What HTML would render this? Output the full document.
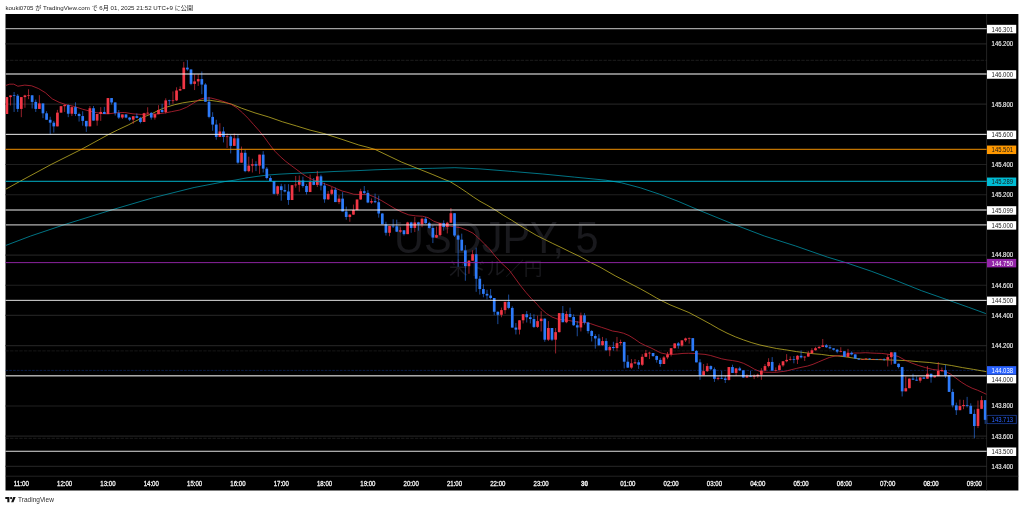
<!DOCTYPE html>
<html lang="ja"><head><meta charset="utf-8"><title>USDJPY chart</title>
<style>html,body{margin:0;padding:0;background:#fff;overflow:hidden}svg{display:block;filter:blur(0.28px)}</style></head>
<body><svg width="1024" height="509" viewBox="0 0 1024 509" font-family="Liberation Sans, Noto Sans CJK JP, sans-serif">
<rect width="1024" height="509" fill="#fff"/>
<text x="5.5" y="10.4" font-size="6.15" fill="#222">kouki0705 が TradingView.com で 6月 01, 2025 21:52 UTC+9 に公開</text>
<rect x="5.5" y="14.0" width="1012.9" height="476.5" fill="#000"/>
<clipPath id="pane"><rect x="5.5" y="14.0" width="981.1" height="462.2"/></clipPath>
<text x="496.3" y="252.7" font-size="45" fill="#19191d" text-anchor="middle" textLength="204.5" lengthAdjust="spacingAndGlyphs">USDJPY, 5</text>
<text x="495.8" y="275.3" font-size="18.7" fill="#19191d" text-anchor="middle">米ドル／円</text>
<g stroke="#202020" stroke-width="1.15">
<line x1="5.5" x2="986.6" y1="43.82" y2="43.82"/>
<line x1="5.5" x2="986.6" y1="74" y2="74"/>
<line x1="5.5" x2="986.6" y1="104.18" y2="104.18"/>
<line x1="5.5" x2="986.6" y1="134.36" y2="134.36"/>
<line x1="5.5" x2="986.6" y1="164.54" y2="164.54"/>
<line x1="5.5" x2="986.6" y1="194.72" y2="194.72"/>
<line x1="5.5" x2="986.6" y1="224.9" y2="224.9"/>
<line x1="5.5" x2="986.6" y1="255.08" y2="255.08"/>
<line x1="5.5" x2="986.6" y1="285.26" y2="285.26"/>
<line x1="5.5" x2="986.6" y1="315.44" y2="315.44"/>
<line x1="5.5" x2="986.6" y1="345.62" y2="345.62"/>
<line x1="5.5" x2="986.6" y1="375.8" y2="375.8"/>
<line x1="5.5" x2="986.6" y1="405.98" y2="405.98"/>
<line x1="5.5" x2="986.6" y1="436.16" y2="436.16"/>
<line x1="5.5" x2="986.6" y1="466.34" y2="466.34"/>
</g>
<line x1="986.6" x2="986.6" y1="14.0" y2="490.5" stroke="#3a3a3a" stroke-width="0.6"/>
<line x1="5.5" x2="1018.4" y1="476.2" y2="476.2" stroke="#3a3a3a" stroke-width="0.6"/>
<line x1="5.5" x2="986.6" y1="60.3" y2="60.3" stroke="#383838" stroke-width="0.5" stroke-dasharray="3.4 1.2"/>
<line x1="5.5" x2="986.6" y1="438.3" y2="438.3" stroke="#383838" stroke-width="0.5" stroke-dasharray="3.4 1.2"/>
<line x1="5.5" x2="986.6" y1="350.9" y2="350.9" stroke="#2c2c2c" stroke-width="0.5" stroke-dasharray="3.4 1.2"/>
<line x1="5.5" x2="986.6" y1="370.4" y2="370.4" stroke="#102e76" stroke-width="0.6" stroke-dasharray="2.6 1.2"/>
<g clip-path="url(#pane)">
<polyline fill="none" stroke="#00a5bb" stroke-width="0.7" stroke-linejoin="round" points="5.6,245.5 30.7,236 66.4,224 112.4,209.7 153.3,197.7 194.1,187.5 224.8,181.6 235,180.1 246,178 257,176.4 268,175 279,174.2 290,173.6 301,173.2 312,172.5 323,172.1 334,171.5 345,171.1 356,170.7 367,170.2 375,169.8 401.4,168.9 432.9,168.3 454.9,167.7 480,168.9 511.5,171.4 542.9,174 574.3,177.1 605.8,180.2 621.5,182.8 640.4,187.8 659.2,194.1 678.1,201.3 698.3,209.9 732.9,224 764.3,236 795.7,246 827.2,257 846,262.7 871.2,271.2 896.3,280.6 921.5,290.7 946.6,299.5 968.6,307.3 985.9,313.6"/>
<polyline fill="none" stroke="#d9c72b" stroke-width="0.7" stroke-linejoin="round" points="5.6,189.3 20.4,181.1 51.1,164.5 81.7,149.2 109.8,133.8 117.5,130 128.2,125 135.8,121 144,116.9 152.3,113.5 159.1,110 166,107.3 174.3,104.8 182.5,102.9 190.8,101.6 199,100.6 204.5,100.2 210,100.3 216.9,101.3 223.8,102.4 230.7,103.8 241.3,108.1 255,112.9 268.8,117 282.5,121.8 296.3,125.9 310,130.1 323.8,133.5 340,138.7 358.8,145 367,147.1 375,149.4 401.4,162 432.9,174.6 443.1,178.9 450,181.6 458.3,186.7 466.5,192.2 473.4,197 480,201.3 486.8,205 495,209.8 503.3,215.3 511.5,220.1 519.8,225.4 528,230.4 536.3,235.3 544.5,239.4 552.8,243.5 561,247.4 569.3,251.5 580,256.6 590,262.2 600,267.1 615.2,275.8 640.4,288.8 649.7,294 656.5,298 663.4,301.6 670,304.8 688.9,312.5 703,320 710.5,324.1 718.8,328.9 727,333.1 735.3,336.8 743.5,339.9 751.8,342.7 760,345 768.3,346.8 776.5,348.5 784.8,349.7 796.5,351.6 804.8,352.7 813,353.7 821.3,354.4 829.5,355.5 837.8,356 846,356.9 854.3,358.2 862.5,359.2 870.8,359.5 879,359.6 887.3,359.9 895.5,360.2 907.5,360.7 918.5,361.7 929.5,362.5 940.5,363.9 951.5,365.5 962.5,367.6 973.5,369.4 986.6,371.7"/>
<polyline fill="none" stroke="#d8283c" stroke-width="0.7" stroke-linejoin="round" points="5.5,85.54 9.62,84.16 13.75,84.16 17.87,86.22 24.75,85.12 31.62,85.81 38.5,88.56 45.37,92.69 52.25,98.87 59.12,102.31 66,104.65 74.25,106.44 82.5,109.19 89.37,110.97 96.25,112.62 103.12,113.72 108.25,113.86 116.5,112.76 124.76,112.49 133.01,113.86 141.26,114.41 149.51,114.14 157.76,113.86 164.64,113.04 171.52,111.66 179.77,110.01 186.65,107.26 193.52,103.14 199.02,99.7 203.15,98.32 205.5,98.03 211,98.03 217.88,99.81 224.76,101.88 231.63,104.63 237.13,108.07 242.64,112.88 248.14,118.38 253.64,124.57 259.14,130.76 264.64,137.64 270.14,145.2 274.88,151.19 280.39,156.69 285.89,161.5 291.39,165.63 296.89,169.76 302.39,173.88 307.89,177.32 313.39,180.07 320.27,182.13 325.77,184.2 331.27,186.26 336.77,188.74 342.28,191.07 346.88,192.19 353.75,194.25 360.63,194.53 367.51,194.25 374.38,197.01 381.26,200.44 388.14,204.57 395.01,208.7 401.89,212.13 408.77,214.88 415.64,215.85 422.52,216.26 428.02,217.64 433.52,221.07 439.02,223.14 446.88,225.63 453.75,226.73 460.63,227.69 467.51,230.44 473.01,233.19 478.51,238.01 484.01,243.51 489.51,249.01 495.01,255.89 500.51,262.08 509.51,270.5 515.01,278.07 520.51,285.63 526.02,292.51 531.52,298.7 537.02,304.2 541,308.75 546.5,313.57 552.01,317.01 557.51,319.07 563.01,319.76 568.51,320.44 574.01,321.41 579.51,322.23 585.01,322.51 590.51,323.61 596.02,325.53 601.52,327.32 607.02,329.11 612.52,331.03 618.02,331.86 623.52,333.23 629.02,335.57 634.52,339.01 640.03,342.86 645.53,345.61 651.03,347.95 655.5,350.26 661,353.01 666.5,354.11 672.01,354.38 677.51,353.97 683.01,353.42 688.51,353.28 694.01,353.42 699.51,353.97 705.01,354.38 710.51,355.48 716.02,357.13 721.52,358.78 727.02,359.88 732.52,360.57 738.02,361.53 743.52,363.32 749.02,366.07 754.52,369.24 760.03,371.57 765.53,372.26 771.03,372.26 776.53,372.26 785.5,371.16 791,369.79 796.5,368.41 802.01,367.17 807.51,366.07 813.01,364.29 818.51,361.95 824.01,359.61 829.51,357.41 835.01,356.03 840.51,355.48 846.02,355.07 850.14,353.7 854.27,353.01 859.77,353.01 865.27,352.73 870.77,353.01 876.27,353.28 881.77,353.42 887.28,354.11 892.78,355.07 898.28,356.45 904.76,360 911.63,363.03 918.51,365.5 925.39,367.56 932.26,369.35 939.14,370.31 944.64,371.28 950.14,373.75 955.64,377.88 961.14,382.01 966.65,385.44 972.15,388.19 977.65,390.26 983.15,392.73 986.59,394.38"/>
<path d="M6.88 97.09V114" stroke="#f23645" stroke-width="0.62"/>
<rect x="5.53" y="97.09" width="2.7" height="16.91" fill="#f23645"/>
<path d="M10.49 95.44V105.48" stroke="#f23645" stroke-width="0.62"/>
<rect x="9.14" y="95.44" width="2.7" height="1.65" fill="#f23645"/>
<path d="M14.1 92V111.94" stroke="#2d7bfa" stroke-width="0.62"/>
<rect x="12.75" y="95.23" width="2.7" height="0.7" fill="#2d7bfa"/>
<path d="M17.71 94.06V111.94" stroke="#2d7bfa" stroke-width="0.62"/>
<rect x="16.36" y="95.72" width="2.7" height="13.2" fill="#2d7bfa"/>
<path d="M21.32 97.09V117.17" stroke="#f23645" stroke-width="0.62"/>
<rect x="19.97" y="97.09" width="2.7" height="11.83" fill="#f23645"/>
<path d="M24.93 94.75V107.82" stroke="#f23645" stroke-width="0.62"/>
<rect x="23.58" y="95.44" width="2.7" height="1.65" fill="#f23645"/>
<path d="M28.54 89.25V99.15" stroke="#f23645" stroke-width="0.62"/>
<rect x="27.19" y="95.02" width="2.7" height="0.7" fill="#f23645"/>
<path d="M32.15 95.17V108.5" stroke="#2d7bfa" stroke-width="0.62"/>
<rect x="30.8" y="95.3" width="2.7" height="6.6" fill="#2d7bfa"/>
<path d="M35.76 99.57V111.94" stroke="#2d7bfa" stroke-width="0.62"/>
<rect x="34.41" y="101.9" width="2.7" height="7.01" fill="#2d7bfa"/>
<path d="M39.37 95.17V108.92" stroke="#f23645" stroke-width="0.62"/>
<rect x="38.02" y="103.42" width="2.7" height="5.5" fill="#f23645"/>
<path d="M42.98 103.42V118.13" stroke="#2d7bfa" stroke-width="0.62"/>
<rect x="41.63" y="103.42" width="2.7" height="9.9" fill="#2d7bfa"/>
<path d="M46.59 111.25V119.78" stroke="#2d7bfa" stroke-width="0.62"/>
<rect x="45.24" y="113.32" width="2.7" height="6.46" fill="#2d7bfa"/>
<path d="M50.2 116.75V134.36" stroke="#2d7bfa" stroke-width="0.62"/>
<rect x="48.85" y="119.78" width="2.7" height="2.89" fill="#2d7bfa"/>
<path d="M53.81 120.88V132.57" stroke="#2d7bfa" stroke-width="0.62"/>
<rect x="52.46" y="122.67" width="2.7" height="3.71" fill="#2d7bfa"/>
<path d="M57.42 109.88V126.38" stroke="#f23645" stroke-width="0.62"/>
<rect x="56.07" y="112.63" width="2.7" height="13.75" fill="#f23645"/>
<path d="M61.03 106.17V112.63" stroke="#f23645" stroke-width="0.62"/>
<rect x="59.68" y="106.17" width="2.7" height="6.46" fill="#f23645"/>
<path d="M64.64 104.38V111.94" stroke="#f23645" stroke-width="0.62"/>
<rect x="63.29" y="105.07" width="2.7" height="1.1" fill="#f23645"/>
<path d="M68.25 104.38V117.17" stroke="#2d7bfa" stroke-width="0.62"/>
<rect x="66.9" y="105.07" width="2.7" height="8.66" fill="#2d7bfa"/>
<path d="M71.86 106.44V116.07" stroke="#f23645" stroke-width="0.62"/>
<rect x="70.51" y="107.13" width="2.7" height="6.6" fill="#f23645"/>
<path d="M75.47 102.32V116.07" stroke="#2d7bfa" stroke-width="0.62"/>
<rect x="74.12" y="107.13" width="2.7" height="6.88" fill="#2d7bfa"/>
<path d="M79.08 112.63V121.57" stroke="#2d7bfa" stroke-width="0.62"/>
<rect x="77.73" y="114" width="2.7" height="2.06" fill="#2d7bfa"/>
<path d="M82.69 111.25V125.69" stroke="#2d7bfa" stroke-width="0.62"/>
<rect x="81.34" y="116.07" width="2.7" height="4.81" fill="#2d7bfa"/>
<path d="M86.3 120.88V131.88" stroke="#2d7bfa" stroke-width="0.62"/>
<rect x="84.95" y="120.88" width="2.7" height="5.5" fill="#2d7bfa"/>
<path d="M89.91 106.03V126.38" stroke="#f23645" stroke-width="0.62"/>
<rect x="88.56" y="108.23" width="2.7" height="18.15" fill="#f23645"/>
<path d="M93.52 106.03V120.61" stroke="#2d7bfa" stroke-width="0.62"/>
<rect x="92.17" y="108.23" width="2.7" height="12.38" fill="#2d7bfa"/>
<path d="M97.13 114V125.69" stroke="#f23645" stroke-width="0.62"/>
<rect x="95.78" y="114" width="2.7" height="6.6" fill="#f23645"/>
<path d="M100.74 107.13V120.88" stroke="#f23645" stroke-width="0.62"/>
<rect x="99.39" y="111.94" width="2.7" height="2.06" fill="#f23645"/>
<path d="M104.35 106.85V114" stroke="#2d7bfa" stroke-width="0.62"/>
<rect x="103" y="111.94" width="2.7" height="2.06" fill="#2d7bfa"/>
<path d="M107.96 98.05V114" stroke="#f23645" stroke-width="0.62"/>
<rect x="106.61" y="98.05" width="2.7" height="15.96" fill="#f23645"/>
<path d="M111.57 98.05V104.51" stroke="#2d7bfa" stroke-width="0.62"/>
<rect x="110.22" y="98.05" width="2.7" height="4.4" fill="#2d7bfa"/>
<path d="M115.18 102.45V115.51" stroke="#2d7bfa" stroke-width="0.62"/>
<rect x="113.83" y="102.45" width="2.7" height="10.73" fill="#2d7bfa"/>
<path d="M118.79 110.01V118.95" stroke="#2d7bfa" stroke-width="0.62"/>
<rect x="117.44" y="113.18" width="2.7" height="4.4" fill="#2d7bfa"/>
<path d="M122.4 114.41V118.95" stroke="#f23645" stroke-width="0.62"/>
<rect x="121.05" y="114.41" width="2.7" height="3.16" fill="#f23645"/>
<path d="M126.01 114.41V118.27" stroke="#2d7bfa" stroke-width="0.62"/>
<rect x="124.66" y="114.41" width="2.7" height="3.16" fill="#2d7bfa"/>
<path d="M129.62 116.89V121.02" stroke="#2d7bfa" stroke-width="0.62"/>
<rect x="128.27" y="117.58" width="2.7" height="2.06" fill="#2d7bfa"/>
<path d="M133.23 116.2V123.77" stroke="#f23645" stroke-width="0.62"/>
<rect x="131.88" y="116.2" width="2.7" height="3.44" fill="#f23645"/>
<path d="M136.84 113.45V118.27" stroke="#2d7bfa" stroke-width="0.62"/>
<rect x="135.49" y="116.2" width="2.7" height="1.65" fill="#2d7bfa"/>
<path d="M140.45 116.89V123.35" stroke="#2d7bfa" stroke-width="0.62"/>
<rect x="139.1" y="117.85" width="2.7" height="4.13" fill="#2d7bfa"/>
<path d="M144.06 112.76V121.98" stroke="#f23645" stroke-width="0.62"/>
<rect x="142.71" y="113.18" width="2.7" height="8.8" fill="#f23645"/>
<path d="M147.67 107.26V114.14" stroke="#f23645" stroke-width="0.62"/>
<rect x="146.32" y="112.69" width="2.7" height="0.7" fill="#f23645"/>
<path d="M151.28 112.08V119.64" stroke="#2d7bfa" stroke-width="0.62"/>
<rect x="149.93" y="112.9" width="2.7" height="4.68" fill="#2d7bfa"/>
<path d="M154.89 114.14V119.64" stroke="#f23645" stroke-width="0.62"/>
<rect x="153.54" y="114.14" width="2.7" height="3.44" fill="#f23645"/>
<path d="M158.5 105.2V114.14" stroke="#f23645" stroke-width="0.62"/>
<rect x="157.15" y="110.01" width="2.7" height="4.13" fill="#f23645"/>
<path d="M162.11 103.82V112.76" stroke="#2d7bfa" stroke-width="0.62"/>
<rect x="160.76" y="110.01" width="2.7" height="2.06" fill="#2d7bfa"/>
<path d="M165.72 98.32V113.45" stroke="#f23645" stroke-width="0.62"/>
<rect x="164.37" y="100.39" width="2.7" height="11.69" fill="#f23645"/>
<path d="M169.33 99.7V105.2" stroke="#2d7bfa" stroke-width="0.62"/>
<rect x="167.98" y="100.38" width="2.7" height="0.7" fill="#2d7bfa"/>
<path d="M172.94 91.45V103.82" stroke="#f23645" stroke-width="0.62"/>
<rect x="171.59" y="100.38" width="2.7" height="0.7" fill="#f23645"/>
<path d="M176.55 87.32V101.07" stroke="#f23645" stroke-width="0.62"/>
<rect x="175.2" y="90.48" width="2.7" height="9.9" fill="#f23645"/>
<path d="M180.16 86.36V91.03" stroke="#f23645" stroke-width="0.62"/>
<rect x="178.81" y="89.11" width="2.7" height="1.38" fill="#f23645"/>
<path d="M183.77 61.88V89.11" stroke="#f23645" stroke-width="0.62"/>
<rect x="182.42" y="67.65" width="2.7" height="21.46" fill="#f23645"/>
<path d="M187.38 60.23V70.82" stroke="#2d7bfa" stroke-width="0.62"/>
<rect x="186.03" y="67.65" width="2.7" height="1.79" fill="#2d7bfa"/>
<path d="M190.99 69.44V85.26" stroke="#2d7bfa" stroke-width="0.62"/>
<rect x="189.64" y="69.44" width="2.7" height="14.44" fill="#2d7bfa"/>
<path d="M194.6 74.25V90.07" stroke="#f23645" stroke-width="0.62"/>
<rect x="193.25" y="81.41" width="2.7" height="2.48" fill="#f23645"/>
<path d="M198.21 74.25V85.94" stroke="#f23645" stroke-width="0.62"/>
<rect x="196.86" y="79.07" width="2.7" height="2.34" fill="#f23645"/>
<path d="M201.82 71.5V94.2" stroke="#2d7bfa" stroke-width="0.62"/>
<rect x="200.47" y="79.07" width="2.7" height="5.5" fill="#2d7bfa"/>
<path d="M205.43 83.19V101.76" stroke="#2d7bfa" stroke-width="0.62"/>
<rect x="204.08" y="84.57" width="2.7" height="17.19" fill="#2d7bfa"/>
<path d="M209.04 96.95V118.27" stroke="#2d7bfa" stroke-width="0.62"/>
<rect x="207.69" y="101.76" width="2.7" height="15.13" fill="#2d7bfa"/>
<path d="M212.65 112.19V130.76" stroke="#2d7bfa" stroke-width="0.62"/>
<rect x="211.3" y="116.89" width="2.7" height="7.68" fill="#2d7bfa"/>
<path d="M216.26 119.76V139.7" stroke="#2d7bfa" stroke-width="0.62"/>
<rect x="214.91" y="124.57" width="2.7" height="12.38" fill="#2d7bfa"/>
<path d="M219.87 123.19V136.95" stroke="#f23645" stroke-width="0.62"/>
<rect x="218.52" y="131.45" width="2.7" height="5.5" fill="#f23645"/>
<path d="M223.48 126.91V142.45" stroke="#2d7bfa" stroke-width="0.62"/>
<rect x="222.13" y="131.45" width="2.7" height="5.5" fill="#2d7bfa"/>
<path d="M227.09 133.51V147.95" stroke="#f23645" stroke-width="0.62"/>
<rect x="225.74" y="136.39" width="2.7" height="0.7" fill="#f23645"/>
<path d="M230.7 134.88V153.45" stroke="#2d7bfa" stroke-width="0.62"/>
<rect x="229.35" y="136.53" width="2.7" height="9.35" fill="#2d7bfa"/>
<path d="M234.31 133.51V145.89" stroke="#f23645" stroke-width="0.62"/>
<rect x="232.96" y="138.32" width="2.7" height="7.56" fill="#f23645"/>
<path d="M237.92 134.88V163.77" stroke="#2d7bfa" stroke-width="0.62"/>
<rect x="236.57" y="138.32" width="2.7" height="24.34" fill="#2d7bfa"/>
<path d="M241.53 146.57V162.67" stroke="#f23645" stroke-width="0.62"/>
<rect x="240.18" y="152.76" width="2.7" height="9.9" fill="#f23645"/>
<path d="M245.14 149.81V172.23" stroke="#2d7bfa" stroke-width="0.62"/>
<rect x="243.79" y="152.76" width="2.7" height="18.37" fill="#2d7bfa"/>
<path d="M248.75 156.69V172.23" stroke="#f23645" stroke-width="0.62"/>
<rect x="247.4" y="165.63" width="2.7" height="5.5" fill="#f23645"/>
<path d="M252.36 158.75V172.51" stroke="#f23645" stroke-width="0.62"/>
<rect x="251.01" y="164.25" width="2.7" height="1.38" fill="#f23645"/>
<path d="M255.97 161.23V171.13" stroke="#2d7bfa" stroke-width="0.62"/>
<rect x="254.62" y="164.25" width="2.7" height="1.38" fill="#2d7bfa"/>
<path d="M259.58 154.63V173.88" stroke="#f23645" stroke-width="0.62"/>
<rect x="258.23" y="154.63" width="2.7" height="11" fill="#f23645"/>
<path d="M263.19 151.19V172.51" stroke="#2d7bfa" stroke-width="0.62"/>
<rect x="261.84" y="154.63" width="2.7" height="14.03" fill="#2d7bfa"/>
<path d="M266.8 167.01V179.38" stroke="#2d7bfa" stroke-width="0.62"/>
<rect x="265.45" y="168.66" width="2.7" height="9.35" fill="#2d7bfa"/>
<path d="M270.41 175.94V181.03" stroke="#2d7bfa" stroke-width="0.62"/>
<rect x="269.06" y="178.01" width="2.7" height="3.03" fill="#2d7bfa"/>
<path d="M274.02 181.03V194.51" stroke="#2d7bfa" stroke-width="0.62"/>
<rect x="272.67" y="181.03" width="2.7" height="12.79" fill="#2d7bfa"/>
<path d="M277.63 185.57V195.61" stroke="#f23645" stroke-width="0.62"/>
<rect x="276.28" y="186.26" width="2.7" height="7.56" fill="#f23645"/>
<path d="M281.24 183.78V200.7" stroke="#2d7bfa" stroke-width="0.62"/>
<rect x="279.89" y="186.26" width="2.7" height="3.85" fill="#2d7bfa"/>
<path d="M284.85 184.2V192.45" stroke="#2d7bfa" stroke-width="0.62"/>
<rect x="283.5" y="190.11" width="2.7" height="1.38" fill="#2d7bfa"/>
<path d="M288.46 184.2V204.83" stroke="#2d7bfa" stroke-width="0.62"/>
<rect x="287.11" y="191.49" width="2.7" height="8.53" fill="#2d7bfa"/>
<path d="M292.07 185.16V200.01" stroke="#f23645" stroke-width="0.62"/>
<rect x="290.72" y="185.16" width="2.7" height="14.85" fill="#f23645"/>
<path d="M295.68 175.94V187.64" stroke="#f23645" stroke-width="0.62"/>
<rect x="294.33" y="184.6" width="2.7" height="0.7" fill="#f23645"/>
<path d="M299.29 175.53V191.76" stroke="#f23645" stroke-width="0.62"/>
<rect x="297.94" y="180.48" width="2.7" height="4.26" fill="#f23645"/>
<path d="M302.9 176.63V187.64" stroke="#2d7bfa" stroke-width="0.62"/>
<rect x="301.55" y="180.48" width="2.7" height="5.5" fill="#2d7bfa"/>
<path d="M306.51 184.2V194.51" stroke="#2d7bfa" stroke-width="0.62"/>
<rect x="305.16" y="185.98" width="2.7" height="6.05" fill="#2d7bfa"/>
<path d="M310.12 174.57V192.04" stroke="#f23645" stroke-width="0.62"/>
<rect x="308.77" y="181.86" width="2.7" height="10.18" fill="#f23645"/>
<path d="M313.73 178.01V185.16" stroke="#2d7bfa" stroke-width="0.62"/>
<rect x="312.38" y="181.86" width="2.7" height="3.03" fill="#2d7bfa"/>
<path d="M317.34 170.86V186.95" stroke="#f23645" stroke-width="0.62"/>
<rect x="315.99" y="176.36" width="2.7" height="8.53" fill="#f23645"/>
<path d="M320.95 174.57V190.39" stroke="#2d7bfa" stroke-width="0.62"/>
<rect x="319.6" y="176.36" width="2.7" height="9.21" fill="#2d7bfa"/>
<path d="M324.56 182.82V202.76" stroke="#2d7bfa" stroke-width="0.62"/>
<rect x="323.21" y="185.57" width="2.7" height="13.75" fill="#2d7bfa"/>
<path d="M328.17 191.07V200.01" stroke="#f23645" stroke-width="0.62"/>
<rect x="326.82" y="193.82" width="2.7" height="5.5" fill="#f23645"/>
<path d="M331.78 186.95V195.2" stroke="#f23645" stroke-width="0.62"/>
<rect x="330.43" y="189.7" width="2.7" height="4.13" fill="#f23645"/>
<path d="M335.39 187.64V202.08" stroke="#2d7bfa" stroke-width="0.62"/>
<rect x="334.04" y="189.7" width="2.7" height="12.38" fill="#2d7bfa"/>
<path d="M339 195.2V204.14" stroke="#f23645" stroke-width="0.62"/>
<rect x="337.65" y="198.64" width="2.7" height="3.44" fill="#f23645"/>
<path d="M342.61 192.19V211.45" stroke="#2d7bfa" stroke-width="0.62"/>
<rect x="341.26" y="198.64" width="2.7" height="12.81" fill="#2d7bfa"/>
<path d="M346.22 206.63V219.7" stroke="#2d7bfa" stroke-width="0.62"/>
<rect x="344.87" y="211.45" width="2.7" height="5.5" fill="#2d7bfa"/>
<path d="M349.83 214.2V221.76" stroke="#f23645" stroke-width="0.62"/>
<rect x="348.48" y="214.61" width="2.7" height="2.34" fill="#f23645"/>
<path d="M353.44 204.57V214.88" stroke="#f23645" stroke-width="0.62"/>
<rect x="352.09" y="210.07" width="2.7" height="4.54" fill="#f23645"/>
<path d="M357.05 199.48V210.07" stroke="#f23645" stroke-width="0.62"/>
<rect x="355.7" y="199.48" width="2.7" height="10.59" fill="#f23645"/>
<path d="M360.66 188.75V199.76" stroke="#f23645" stroke-width="0.62"/>
<rect x="359.31" y="191.23" width="2.7" height="8.25" fill="#f23645"/>
<path d="M364.27 186V194.25" stroke="#2d7bfa" stroke-width="0.62"/>
<rect x="362.92" y="191.23" width="2.7" height="1.65" fill="#2d7bfa"/>
<path d="M367.88 190.13V203.19" stroke="#2d7bfa" stroke-width="0.62"/>
<rect x="366.53" y="192.88" width="2.7" height="9.63" fill="#2d7bfa"/>
<path d="M371.49 198.38V203.88" stroke="#f23645" stroke-width="0.62"/>
<rect x="370.14" y="201.13" width="2.7" height="1.38" fill="#f23645"/>
<path d="M375.1 193.57V203.19" stroke="#2d7bfa" stroke-width="0.62"/>
<rect x="373.75" y="201.13" width="2.7" height="1.1" fill="#2d7bfa"/>
<path d="M378.71 195.63V217.64" stroke="#2d7bfa" stroke-width="0.62"/>
<rect x="377.36" y="202.23" width="2.7" height="11.28" fill="#2d7bfa"/>
<path d="M382.32 213.23V224.24" stroke="#2d7bfa" stroke-width="0.62"/>
<rect x="380.97" y="213.51" width="2.7" height="10.73" fill="#2d7bfa"/>
<path d="M385.93 221.76V235.51" stroke="#2d7bfa" stroke-width="0.62"/>
<rect x="384.58" y="224.24" width="2.7" height="8.53" fill="#2d7bfa"/>
<path d="M389.54 225.89V236.2" stroke="#f23645" stroke-width="0.62"/>
<rect x="388.19" y="225.89" width="2.7" height="6.88" fill="#f23645"/>
<path d="M393.15 219.29V227.95" stroke="#2d7bfa" stroke-width="0.62"/>
<rect x="391.8" y="225.74" width="2.7" height="0.7" fill="#2d7bfa"/>
<path d="M396.76 219.7V232.08" stroke="#2d7bfa" stroke-width="0.62"/>
<rect x="395.41" y="226.3" width="2.7" height="5.36" fill="#2d7bfa"/>
<path d="M400.37 227.26V232.76" stroke="#f23645" stroke-width="0.62"/>
<rect x="399.02" y="230.29" width="2.7" height="1.38" fill="#f23645"/>
<path d="M403.98 230.29V235.51" stroke="#2d7bfa" stroke-width="0.62"/>
<rect x="402.63" y="230.29" width="2.7" height="3.85" fill="#2d7bfa"/>
<path d="M407.59 221.76V234.14" stroke="#f23645" stroke-width="0.62"/>
<rect x="406.24" y="222.45" width="2.7" height="11.69" fill="#f23645"/>
<path d="M411.2 221.76V232.76" stroke="#2d7bfa" stroke-width="0.62"/>
<rect x="409.85" y="222.45" width="2.7" height="5.5" fill="#2d7bfa"/>
<path d="M414.81 216.95V232.08" stroke="#f23645" stroke-width="0.62"/>
<rect x="413.46" y="222.45" width="2.7" height="5.5" fill="#f23645"/>
<path d="M418.42 221.76V230.7" stroke="#2d7bfa" stroke-width="0.62"/>
<rect x="417.07" y="222.45" width="2.7" height="1.79" fill="#2d7bfa"/>
<path d="M422.03 217.64V227.26" stroke="#f23645" stroke-width="0.62"/>
<rect x="420.68" y="218.74" width="2.7" height="5.5" fill="#f23645"/>
<path d="M425.64 216.95V223.82" stroke="#2d7bfa" stroke-width="0.62"/>
<rect x="424.29" y="218.74" width="2.7" height="4.4" fill="#2d7bfa"/>
<path d="M429.25 221.76V228.64" stroke="#2d7bfa" stroke-width="0.62"/>
<rect x="427.9" y="223.14" width="2.7" height="4.81" fill="#2d7bfa"/>
<path d="M432.86 225.2V243.08" stroke="#2d7bfa" stroke-width="0.62"/>
<rect x="431.51" y="227.95" width="2.7" height="9.63" fill="#2d7bfa"/>
<path d="M436.47 226.57V237.99" stroke="#f23645" stroke-width="0.62"/>
<rect x="435.12" y="235.1" width="2.7" height="2.48" fill="#f23645"/>
<path d="M440.08 223.14V236.2" stroke="#f23645" stroke-width="0.62"/>
<rect x="438.73" y="223.14" width="2.7" height="11.97" fill="#f23645"/>
<path d="M443.69 220.39V230.7" stroke="#2d7bfa" stroke-width="0.62"/>
<rect x="442.34" y="223.14" width="2.7" height="3.85" fill="#2d7bfa"/>
<path d="M447.3 221.76V233.45" stroke="#f23645" stroke-width="0.62"/>
<rect x="445.95" y="222.72" width="2.7" height="4.26" fill="#f23645"/>
<path d="M450.91 208.01V222.72" stroke="#f23645" stroke-width="0.62"/>
<rect x="449.56" y="213.23" width="2.7" height="9.49" fill="#f23645"/>
<path d="M454.52 213.23V236.89" stroke="#2d7bfa" stroke-width="0.62"/>
<rect x="453.17" y="213.23" width="2.7" height="22.28" fill="#2d7bfa"/>
<path d="M458.13 234.57V266.89" stroke="#2d7bfa" stroke-width="0.62"/>
<rect x="456.78" y="235.51" width="2.7" height="4.14" fill="#2d7bfa"/>
<path d="M461.74 233.61V251.07" stroke="#2d7bfa" stroke-width="0.62"/>
<rect x="460.39" y="239.66" width="2.7" height="10.73" fill="#2d7bfa"/>
<path d="M465.35 245.16V280.78" stroke="#2d7bfa" stroke-width="0.62"/>
<rect x="464" y="250.39" width="2.7" height="15.82" fill="#2d7bfa"/>
<path d="M468.96 260.01V273.77" stroke="#f23645" stroke-width="0.62"/>
<rect x="467.61" y="260.7" width="2.7" height="5.5" fill="#f23645"/>
<path d="M472.57 250.39V260.7" stroke="#f23645" stroke-width="0.62"/>
<rect x="471.22" y="254.24" width="2.7" height="6.46" fill="#f23645"/>
<path d="M476.18 247.67V291.82" stroke="#2d7bfa" stroke-width="0.62"/>
<rect x="474.83" y="254.24" width="2.7" height="24.52" fill="#2d7bfa"/>
<path d="M479.79 276V294.57" stroke="#2d7bfa" stroke-width="0.62"/>
<rect x="478.44" y="278.75" width="2.7" height="10.31" fill="#2d7bfa"/>
<path d="M483.4 284.25V297.32" stroke="#2d7bfa" stroke-width="0.62"/>
<rect x="482.05" y="289.07" width="2.7" height="4.81" fill="#2d7bfa"/>
<path d="M487.01 289.76V299.38" stroke="#2d7bfa" stroke-width="0.62"/>
<rect x="485.66" y="293.88" width="2.7" height="1.65" fill="#2d7bfa"/>
<path d="M490.62 289.07V299.38" stroke="#2d7bfa" stroke-width="0.62"/>
<rect x="489.27" y="295.53" width="2.7" height="2.48" fill="#2d7bfa"/>
<path d="M494.23 298.01V315.2" stroke="#2d7bfa" stroke-width="0.62"/>
<rect x="492.88" y="298.01" width="2.7" height="13.75" fill="#2d7bfa"/>
<path d="M497.84 311.49V324.14" stroke="#2d7bfa" stroke-width="0.62"/>
<rect x="496.49" y="311.76" width="2.7" height="3.03" fill="#2d7bfa"/>
<path d="M501.45 307.64V317.26" stroke="#f23645" stroke-width="0.62"/>
<rect x="500.1" y="310.11" width="2.7" height="4.68" fill="#f23645"/>
<path d="M505.06 301.86V313.82" stroke="#f23645" stroke-width="0.62"/>
<rect x="503.71" y="301.86" width="2.7" height="8.25" fill="#f23645"/>
<path d="M508.67 294.57V309.29" stroke="#2d7bfa" stroke-width="0.62"/>
<rect x="507.32" y="301.86" width="2.7" height="6.05" fill="#2d7bfa"/>
<path d="M512.28 306.26V327.58" stroke="#2d7bfa" stroke-width="0.62"/>
<rect x="510.93" y="307.91" width="2.7" height="19.67" fill="#2d7bfa"/>
<path d="M515.89 323.04V334.45" stroke="#2d7bfa" stroke-width="0.62"/>
<rect x="514.54" y="327.58" width="2.7" height="2.06" fill="#2d7bfa"/>
<path d="M519.5 320.29V334.45" stroke="#f23645" stroke-width="0.62"/>
<rect x="518.15" y="320.29" width="2.7" height="9.35" fill="#f23645"/>
<path d="M523.11 314.24V323.45" stroke="#f23645" stroke-width="0.62"/>
<rect x="521.76" y="314.24" width="2.7" height="6.05" fill="#f23645"/>
<path d="M526.72 311.07V322.49" stroke="#2d7bfa" stroke-width="0.62"/>
<rect x="525.37" y="314.24" width="2.7" height="3.03" fill="#2d7bfa"/>
<path d="M530.33 313.14V323.45" stroke="#2d7bfa" stroke-width="0.62"/>
<rect x="528.98" y="317.26" width="2.7" height="1.79" fill="#2d7bfa"/>
<path d="M533.94 314.25V328.01" stroke="#2d7bfa" stroke-width="0.62"/>
<rect x="532.59" y="319.05" width="2.7" height="7.86" fill="#2d7bfa"/>
<path d="M537.55 315.63V328.01" stroke="#f23645" stroke-width="0.62"/>
<rect x="536.2" y="321.13" width="2.7" height="5.78" fill="#f23645"/>
<path d="M541.16 311.23V331.45" stroke="#f23645" stroke-width="0.62"/>
<rect x="539.81" y="318.66" width="2.7" height="2.48" fill="#f23645"/>
<path d="M544.77 318.38V341.76" stroke="#2d7bfa" stroke-width="0.62"/>
<rect x="543.42" y="318.66" width="2.7" height="21.04" fill="#2d7bfa"/>
<path d="M548.38 321.13V341.07" stroke="#f23645" stroke-width="0.62"/>
<rect x="547.03" y="328.01" width="2.7" height="11.69" fill="#f23645"/>
<path d="M551.99 328.01V341.07" stroke="#2d7bfa" stroke-width="0.62"/>
<rect x="550.64" y="328.01" width="2.7" height="11.69" fill="#2d7bfa"/>
<path d="M555.6 328.01V353.45" stroke="#f23645" stroke-width="0.62"/>
<rect x="554.25" y="332.13" width="2.7" height="7.56" fill="#f23645"/>
<path d="M559.21 313.15V332.41" stroke="#f23645" stroke-width="0.62"/>
<rect x="557.86" y="313.15" width="2.7" height="18.98" fill="#f23645"/>
<path d="M562.82 306V322.23" stroke="#2d7bfa" stroke-width="0.62"/>
<rect x="561.47" y="313.15" width="2.7" height="9.08" fill="#2d7bfa"/>
<path d="M566.43 311.23V323.19" stroke="#f23645" stroke-width="0.62"/>
<rect x="565.08" y="313.98" width="2.7" height="8.25" fill="#f23645"/>
<path d="M570.04 307.65V317.69" stroke="#2d7bfa" stroke-width="0.62"/>
<rect x="568.69" y="313.98" width="2.7" height="3.03" fill="#2d7bfa"/>
<path d="M573.65 314.25V325.94" stroke="#2d7bfa" stroke-width="0.62"/>
<rect x="572.3" y="317.01" width="2.7" height="8.25" fill="#2d7bfa"/>
<path d="M577.26 321.13V336.26" stroke="#2d7bfa" stroke-width="0.62"/>
<rect x="575.91" y="325.26" width="2.7" height="2.2" fill="#2d7bfa"/>
<path d="M580.87 312.6V331.45" stroke="#f23645" stroke-width="0.62"/>
<rect x="579.52" y="315.35" width="2.7" height="12.1" fill="#f23645"/>
<path d="M584.48 313.15V324.57" stroke="#2d7bfa" stroke-width="0.62"/>
<rect x="583.13" y="315.35" width="2.7" height="7.15" fill="#2d7bfa"/>
<path d="M588.09 321.82V333.51" stroke="#2d7bfa" stroke-width="0.62"/>
<rect x="586.74" y="322.51" width="2.7" height="8.53" fill="#2d7bfa"/>
<path d="M591.7 330.07V341.49" stroke="#2d7bfa" stroke-width="0.62"/>
<rect x="590.35" y="331.03" width="2.7" height="4.95" fill="#2d7bfa"/>
<path d="M595.31 334.2V348.64" stroke="#2d7bfa" stroke-width="0.62"/>
<rect x="593.96" y="335.98" width="2.7" height="2.48" fill="#2d7bfa"/>
<path d="M598.92 334.2V345.89" stroke="#2d7bfa" stroke-width="0.62"/>
<rect x="597.57" y="338.46" width="2.7" height="6.74" fill="#2d7bfa"/>
<path d="M602.53 336.95V345.61" stroke="#f23645" stroke-width="0.62"/>
<rect x="601.18" y="341.07" width="2.7" height="4.13" fill="#f23645"/>
<path d="M606.14 338.32V350.7" stroke="#2d7bfa" stroke-width="0.62"/>
<rect x="604.79" y="341.07" width="2.7" height="9.21" fill="#2d7bfa"/>
<path d="M609.75 345.89V356.2" stroke="#f23645" stroke-width="0.62"/>
<rect x="608.4" y="346.99" width="2.7" height="3.3" fill="#f23645"/>
<path d="M613.36 341.76V350.7" stroke="#2d7bfa" stroke-width="0.62"/>
<rect x="612.01" y="346.99" width="2.7" height="1.1" fill="#2d7bfa"/>
<path d="M616.97 336.95V351.39" stroke="#f23645" stroke-width="0.62"/>
<rect x="615.62" y="343.14" width="2.7" height="4.95" fill="#f23645"/>
<path d="M620.58 339.7V345.2" stroke="#f23645" stroke-width="0.62"/>
<rect x="619.23" y="342.04" width="2.7" height="1.1" fill="#f23645"/>
<path d="M624.19 341.68V368.4" stroke="#2d7bfa" stroke-width="0.62"/>
<rect x="622.84" y="342.04" width="2.7" height="19.68" fill="#2d7bfa"/>
<path d="M627.8 355.14V367.91" stroke="#2d7bfa" stroke-width="0.62"/>
<rect x="626.45" y="361.72" width="2.7" height="5.89" fill="#2d7bfa"/>
<path d="M631.41 359.07V368.89" stroke="#f23645" stroke-width="0.62"/>
<rect x="630.06" y="363.29" width="2.7" height="4.32" fill="#f23645"/>
<path d="M635.02 359.07V363.98" stroke="#f23645" stroke-width="0.62"/>
<rect x="633.67" y="362.31" width="2.7" height="0.98" fill="#f23645"/>
<path d="M638.63 360.05V368.89" stroke="#2d7bfa" stroke-width="0.62"/>
<rect x="637.28" y="362.31" width="2.7" height="2.46" fill="#2d7bfa"/>
<path d="M642.24 354.16V365.94" stroke="#f23645" stroke-width="0.62"/>
<rect x="640.89" y="356.81" width="2.7" height="7.96" fill="#f23645"/>
<path d="M645.85 349.93V357.1" stroke="#f23645" stroke-width="0.62"/>
<rect x="644.5" y="353.17" width="2.7" height="3.63" fill="#f23645"/>
<path d="M649.46 351.7V359.07" stroke="#f23645" stroke-width="0.62"/>
<rect x="648.11" y="352.72" width="2.7" height="0.7" fill="#f23645"/>
<path d="M653.07 352.98V356.86" stroke="#2d7bfa" stroke-width="0.62"/>
<rect x="651.72" y="352.98" width="2.7" height="3.06" fill="#2d7bfa"/>
<path d="M656.68 355.48V362.64" stroke="#2d7bfa" stroke-width="0.62"/>
<rect x="655.33" y="356.03" width="2.7" height="3.85" fill="#2d7bfa"/>
<path d="M660.29 357.82V366.76" stroke="#2d7bfa" stroke-width="0.62"/>
<rect x="658.94" y="359.88" width="2.7" height="4.13" fill="#2d7bfa"/>
<path d="M663.9 356.03V364.01" stroke="#f23645" stroke-width="0.62"/>
<rect x="662.55" y="357.41" width="2.7" height="6.6" fill="#f23645"/>
<path d="M667.51 351.91V359.2" stroke="#f23645" stroke-width="0.62"/>
<rect x="666.16" y="354.38" width="2.7" height="3.03" fill="#f23645"/>
<path d="M671.12 348.19V356.45" stroke="#f23645" stroke-width="0.62"/>
<rect x="669.77" y="348.19" width="2.7" height="6.19" fill="#f23645"/>
<path d="M674.73 343.38V348.47" stroke="#f23645" stroke-width="0.62"/>
<rect x="673.38" y="343.38" width="2.7" height="4.81" fill="#f23645"/>
<path d="M678.34 342.01V348.61" stroke="#2d7bfa" stroke-width="0.62"/>
<rect x="676.99" y="343.38" width="2.7" height="2.2" fill="#2d7bfa"/>
<path d="M681.95 340.35V346.82" stroke="#f23645" stroke-width="0.62"/>
<rect x="680.6" y="340.35" width="2.7" height="5.23" fill="#f23645"/>
<path d="M685.56 337.6V342.01" stroke="#f23645" stroke-width="0.62"/>
<rect x="684.21" y="338.43" width="2.7" height="1.93" fill="#f23645"/>
<path d="M689.17 337.6V343.66" stroke="#f23645" stroke-width="0.62"/>
<rect x="687.82" y="337.94" width="2.7" height="0.7" fill="#f23645"/>
<path d="M692.78 338.15V350.94" stroke="#2d7bfa" stroke-width="0.62"/>
<rect x="691.43" y="338.15" width="2.7" height="12.79" fill="#2d7bfa"/>
<path d="M696.39 349.98V362.36" stroke="#2d7bfa" stroke-width="0.62"/>
<rect x="695.04" y="350.94" width="2.7" height="11.42" fill="#2d7bfa"/>
<path d="M700 359.2V379.83" stroke="#2d7bfa" stroke-width="0.62"/>
<rect x="698.65" y="362.36" width="2.7" height="12.93" fill="#2d7bfa"/>
<path d="M703.61 364.01V375.29" stroke="#f23645" stroke-width="0.62"/>
<rect x="702.26" y="371.16" width="2.7" height="4.13" fill="#f23645"/>
<path d="M707.22 363.32V371.99" stroke="#f23645" stroke-width="0.62"/>
<rect x="705.87" y="366.07" width="2.7" height="5.09" fill="#f23645"/>
<path d="M710.83 365.39V370.2" stroke="#2d7bfa" stroke-width="0.62"/>
<rect x="709.48" y="366.07" width="2.7" height="3.16" fill="#2d7bfa"/>
<path d="M714.44 367.45V381.89" stroke="#2d7bfa" stroke-width="0.62"/>
<rect x="713.09" y="369.24" width="2.7" height="9.63" fill="#2d7bfa"/>
<path d="M718.05 376.39V380.24" stroke="#f23645" stroke-width="0.62"/>
<rect x="716.7" y="378.04" width="2.7" height="0.83" fill="#f23645"/>
<path d="M721.66 370.89V379.14" stroke="#2d7bfa" stroke-width="0.62"/>
<rect x="720.31" y="377.9" width="2.7" height="0.7" fill="#2d7bfa"/>
<path d="M725.27 375.7V382.99" stroke="#2d7bfa" stroke-width="0.62"/>
<rect x="723.92" y="378.45" width="2.7" height="1.51" fill="#2d7bfa"/>
<path d="M728.88 367.04V380.51" stroke="#f23645" stroke-width="0.62"/>
<rect x="727.53" y="367.04" width="2.7" height="12.93" fill="#f23645"/>
<path d="M732.49 364.7V372.95" stroke="#2d7bfa" stroke-width="0.62"/>
<rect x="731.14" y="367.04" width="2.7" height="5.91" fill="#2d7bfa"/>
<path d="M736.1 367.86V375.7" stroke="#f23645" stroke-width="0.62"/>
<rect x="734.75" y="368.41" width="2.7" height="4.54" fill="#f23645"/>
<path d="M739.71 366.76V370.89" stroke="#2d7bfa" stroke-width="0.62"/>
<rect x="738.36" y="368.41" width="2.7" height="1.93" fill="#2d7bfa"/>
<path d="M743.32 370.34V377.76" stroke="#2d7bfa" stroke-width="0.62"/>
<rect x="741.97" y="370.34" width="2.7" height="7.15" fill="#2d7bfa"/>
<path d="M746.93 374.33V378.04" stroke="#f23645" stroke-width="0.62"/>
<rect x="745.58" y="376.11" width="2.7" height="1.38" fill="#f23645"/>
<path d="M750.54 370.89V377.08" stroke="#2d7bfa" stroke-width="0.62"/>
<rect x="749.19" y="376.04" width="2.7" height="0.7" fill="#2d7bfa"/>
<path d="M754.15 374.33V379.14" stroke="#f23645" stroke-width="0.62"/>
<rect x="752.8" y="376.04" width="2.7" height="0.7" fill="#f23645"/>
<path d="M757.76 373.64V377.76" stroke="#f23645" stroke-width="0.62"/>
<rect x="756.41" y="374.74" width="2.7" height="1.38" fill="#f23645"/>
<path d="M761.37 368.14V379.83" stroke="#f23645" stroke-width="0.62"/>
<rect x="760.02" y="370.61" width="2.7" height="4.13" fill="#f23645"/>
<path d="M764.98 364.01V371.16" stroke="#f23645" stroke-width="0.62"/>
<rect x="763.63" y="366.07" width="2.7" height="4.54" fill="#f23645"/>
<path d="M768.59 358.23V367.45" stroke="#f23645" stroke-width="0.62"/>
<rect x="767.24" y="361.95" width="2.7" height="4.13" fill="#f23645"/>
<path d="M772.2 357.13V370.89" stroke="#2d7bfa" stroke-width="0.62"/>
<rect x="770.85" y="361.95" width="2.7" height="8.66" fill="#2d7bfa"/>
<path d="M775.81 367.45V371.57" stroke="#f23645" stroke-width="0.62"/>
<rect x="774.46" y="370.06" width="2.7" height="0.7" fill="#f23645"/>
<path d="M779.42 363.32V370.34" stroke="#f23645" stroke-width="0.62"/>
<rect x="778.07" y="365.39" width="2.7" height="4.81" fill="#f23645"/>
<path d="M783.03 361.26V366.76" stroke="#f23645" stroke-width="0.62"/>
<rect x="781.68" y="361.26" width="2.7" height="4.13" fill="#f23645"/>
<path d="M786.64 354.11V362.36" stroke="#f23645" stroke-width="0.62"/>
<rect x="785.29" y="359.88" width="2.7" height="1.38" fill="#f23645"/>
<path d="M790.25 356.45V360.57" stroke="#f23645" stroke-width="0.62"/>
<rect x="788.9" y="359.19" width="2.7" height="0.7" fill="#f23645"/>
<path d="M793.86 356.03V363.32" stroke="#2d7bfa" stroke-width="0.62"/>
<rect x="792.51" y="359.05" width="2.7" height="0.7" fill="#2d7bfa"/>
<path d="M797.47 355.07V364.01" stroke="#f23645" stroke-width="0.62"/>
<rect x="796.12" y="355.76" width="2.7" height="3.85" fill="#f23645"/>
<path d="M801.08 350.26V358.51" stroke="#2d7bfa" stroke-width="0.62"/>
<rect x="799.73" y="355.76" width="2.7" height="1.65" fill="#2d7bfa"/>
<path d="M804.69 356.31V360.98" stroke="#f23645" stroke-width="0.62"/>
<rect x="803.34" y="356.58" width="2.7" height="0.83" fill="#f23645"/>
<path d="M808.3 350.94V356.86" stroke="#f23645" stroke-width="0.62"/>
<rect x="806.95" y="353.28" width="2.7" height="3.3" fill="#f23645"/>
<path d="M811.91 348.19V353.56" stroke="#f23645" stroke-width="0.62"/>
<rect x="810.56" y="350.26" width="2.7" height="3.03" fill="#f23645"/>
<path d="M815.52 346.82V350.53" stroke="#f23645" stroke-width="0.62"/>
<rect x="814.17" y="348.19" width="2.7" height="2.06" fill="#f23645"/>
<path d="M819.13 345.86V348.61" stroke="#f23645" stroke-width="0.62"/>
<rect x="817.78" y="346.96" width="2.7" height="1.24" fill="#f23645"/>
<path d="M822.74 338.98V346.96" stroke="#f23645" stroke-width="0.62"/>
<rect x="821.39" y="345.31" width="2.7" height="1.65" fill="#f23645"/>
<path d="M826.35 344.07V347.92" stroke="#2d7bfa" stroke-width="0.62"/>
<rect x="825" y="345.31" width="2.7" height="1.93" fill="#2d7bfa"/>
<path d="M829.96 345.03V349.16" stroke="#2d7bfa" stroke-width="0.62"/>
<rect x="828.61" y="347.23" width="2.7" height="1.1" fill="#2d7bfa"/>
<path d="M833.57 348.19V350.53" stroke="#2d7bfa" stroke-width="0.62"/>
<rect x="832.22" y="348.33" width="2.7" height="1.38" fill="#2d7bfa"/>
<path d="M837.18 348.88V353.28" stroke="#2d7bfa" stroke-width="0.62"/>
<rect x="835.83" y="349.71" width="2.7" height="1.93" fill="#2d7bfa"/>
<path d="M840.79 347.23V352.32" stroke="#f23645" stroke-width="0.62"/>
<rect x="839.44" y="351.08" width="2.7" height="0.7" fill="#f23645"/>
<path d="M844.4 351.22V356.86" stroke="#2d7bfa" stroke-width="0.62"/>
<rect x="843.05" y="351.22" width="2.7" height="5.64" fill="#2d7bfa"/>
<path d="M848.01 348.88V356.86" stroke="#f23645" stroke-width="0.62"/>
<rect x="846.66" y="352.73" width="2.7" height="4.13" fill="#f23645"/>
<path d="M851.62 351.36V355.48" stroke="#2d7bfa" stroke-width="0.62"/>
<rect x="850.27" y="352.73" width="2.7" height="1.65" fill="#2d7bfa"/>
<path d="M855.23 354.38V358.78" stroke="#2d7bfa" stroke-width="0.62"/>
<rect x="853.88" y="354.38" width="2.7" height="4.13" fill="#2d7bfa"/>
<path d="M858.84 358.51V359.88" stroke="#2d7bfa" stroke-width="0.62"/>
<rect x="857.49" y="358.51" width="2.7" height="1.1" fill="#2d7bfa"/>
<path d="M862.45 359.06V359.88" stroke="#f23645" stroke-width="0.62"/>
<rect x="861.1" y="359.12" width="2.7" height="0.7" fill="#f23645"/>
<path d="M866.06 358.23V359.61" stroke="#f23645" stroke-width="0.62"/>
<rect x="864.71" y="358.51" width="2.7" height="0.83" fill="#f23645"/>
<path d="M869.67 358.23V359.61" stroke="#2d7bfa" stroke-width="0.62"/>
<rect x="868.32" y="358.51" width="2.7" height="0.83" fill="#2d7bfa"/>
<path d="M873.28 358.92V359.61" stroke="#f23645" stroke-width="0.62"/>
<rect x="871.93" y="358.92" width="2.7" height="0.7" fill="#f23645"/>
<path d="M876.89 359.06V359.61" stroke="#2d7bfa" stroke-width="0.62"/>
<rect x="875.54" y="358.92" width="2.7" height="0.7" fill="#2d7bfa"/>
<path d="M880.5 358.92V359.61" stroke="#f23645" stroke-width="0.62"/>
<rect x="879.15" y="358.92" width="2.7" height="0.7" fill="#f23645"/>
<path d="M884.11 358.23V360.98" stroke="#2d7bfa" stroke-width="0.62"/>
<rect x="882.76" y="359.05" width="2.7" height="0.7" fill="#2d7bfa"/>
<path d="M887.72 354.38V366.49" stroke="#f23645" stroke-width="0.62"/>
<rect x="886.37" y="357.13" width="2.7" height="2.48" fill="#f23645"/>
<path d="M891.33 352.32V364.7" stroke="#f23645" stroke-width="0.62"/>
<rect x="889.98" y="352.32" width="2.7" height="4.81" fill="#f23645"/>
<path d="M894.94 352.32V363.74" stroke="#2d7bfa" stroke-width="0.62"/>
<rect x="893.59" y="352.32" width="2.7" height="11.42" fill="#2d7bfa"/>
<path d="M898.55 363.46V368.41" stroke="#2d7bfa" stroke-width="0.62"/>
<rect x="897.2" y="363.74" width="2.7" height="3.3" fill="#2d7bfa"/>
<path d="M902.16 366.88V396.45" stroke="#2d7bfa" stroke-width="0.62"/>
<rect x="900.81" y="367.04" width="2.7" height="24.32" fill="#2d7bfa"/>
<path d="M905.77 376.5V391.36" stroke="#f23645" stroke-width="0.62"/>
<rect x="904.42" y="388.19" width="2.7" height="3.16" fill="#f23645"/>
<path d="M909.38 378.57V388.19" stroke="#f23645" stroke-width="0.62"/>
<rect x="908.03" y="378.57" width="2.7" height="9.63" fill="#f23645"/>
<path d="M912.99 373.75V379.94" stroke="#2d7bfa" stroke-width="0.62"/>
<rect x="911.64" y="378.57" width="2.7" height="1.1" fill="#2d7bfa"/>
<path d="M916.6 376.5V380.9" stroke="#2d7bfa" stroke-width="0.62"/>
<rect x="915.25" y="379.67" width="2.7" height="0.96" fill="#2d7bfa"/>
<path d="M920.21 377.19V382.69" stroke="#f23645" stroke-width="0.62"/>
<rect x="918.86" y="377.47" width="2.7" height="3.16" fill="#f23645"/>
<path d="M923.82 377.19V378.98" stroke="#2d7bfa" stroke-width="0.62"/>
<rect x="922.47" y="377.47" width="2.7" height="1.24" fill="#2d7bfa"/>
<path d="M927.43 366.19V378.98" stroke="#f23645" stroke-width="0.62"/>
<rect x="926.08" y="373.75" width="2.7" height="4.95" fill="#f23645"/>
<path d="M931.04 373.75V382.69" stroke="#2d7bfa" stroke-width="0.62"/>
<rect x="929.69" y="373.75" width="2.7" height="3.58" fill="#2d7bfa"/>
<path d="M934.65 375.82V377.6" stroke="#f23645" stroke-width="0.62"/>
<rect x="933.3" y="376.09" width="2.7" height="1.24" fill="#f23645"/>
<path d="M938.26 362.06V376.09" stroke="#f23645" stroke-width="0.62"/>
<rect x="936.91" y="371" width="2.7" height="5.09" fill="#f23645"/>
<path d="M941.87 367.56V371.69" stroke="#f23645" stroke-width="0.62"/>
<rect x="940.52" y="370.18" width="2.7" height="0.83" fill="#f23645"/>
<path d="M945.48 364.81V377.88" stroke="#2d7bfa" stroke-width="0.62"/>
<rect x="944.13" y="370.18" width="2.7" height="5.23" fill="#2d7bfa"/>
<path d="M949.09 375.4V391.91" stroke="#2d7bfa" stroke-width="0.62"/>
<rect x="947.74" y="375.4" width="2.7" height="16.5" fill="#2d7bfa"/>
<path d="M952.7 388.88V407.45" stroke="#2d7bfa" stroke-width="0.62"/>
<rect x="951.35" y="391.91" width="2.7" height="13.48" fill="#2d7bfa"/>
<path d="M956.31 402.64V415.01" stroke="#2d7bfa" stroke-width="0.62"/>
<rect x="954.96" y="405.39" width="2.7" height="4.81" fill="#2d7bfa"/>
<path d="M959.92 399.61V410.2" stroke="#f23645" stroke-width="0.62"/>
<rect x="958.57" y="406.07" width="2.7" height="4.13" fill="#f23645"/>
<path d="M963.53 399.88V409.24" stroke="#f23645" stroke-width="0.62"/>
<rect x="962.18" y="404.97" width="2.7" height="1.1" fill="#f23645"/>
<path d="M967.14 396.86V407.45" stroke="#2d7bfa" stroke-width="0.62"/>
<rect x="965.79" y="404.97" width="2.7" height="0.83" fill="#2d7bfa"/>
<path d="M970.75 403.32V413.91" stroke="#2d7bfa" stroke-width="0.62"/>
<rect x="969.4" y="405.8" width="2.7" height="8.11" fill="#2d7bfa"/>
<path d="M974.36 409.51V438.26" stroke="#2d7bfa" stroke-width="0.62"/>
<rect x="973.01" y="413.91" width="2.7" height="12.1" fill="#2d7bfa"/>
<path d="M977.97 400.57V428.08" stroke="#f23645" stroke-width="0.62"/>
<rect x="976.62" y="408.82" width="2.7" height="17.19" fill="#f23645"/>
<path d="M981.58 396.03V409.1" stroke="#f23645" stroke-width="0.62"/>
<rect x="980.23" y="400.16" width="2.7" height="8.66" fill="#f23645"/>
<path d="M985.19 400.16V423.95" stroke="#2d7bfa" stroke-width="0.62"/>
<rect x="983.84" y="400.16" width="2.7" height="19.67" fill="#2d7bfa"/>
</g>
<line x1="5.5" x2="986.6" y1="28.58" y2="28.58" stroke="#fff" stroke-opacity="0.63" stroke-width="1.4"/>
<line x1="5.5" x2="986.6" y1="74" y2="74" stroke="#fff" stroke-opacity="0.63" stroke-width="1.4"/>
<line x1="5.5" x2="986.6" y1="134.36" y2="134.36" stroke="#fff" stroke-opacity="0.93" stroke-width="0.95"/>
<line x1="5.5" x2="986.6" y1="149.3" y2="149.3" stroke="#ff9800" stroke-width="0.95"/>
<line x1="5.5" x2="986.6" y1="181.29" y2="181.29" stroke="#00bcd4" stroke-width="0.95"/>
<line x1="5.5" x2="986.6" y1="209.96" y2="209.96" stroke="#fff" stroke-opacity="0.63" stroke-width="1.4"/>
<line x1="5.5" x2="986.6" y1="224.9" y2="224.9" stroke="#fff" stroke-opacity="0.63" stroke-width="1.4"/>
<line x1="5.5" x2="986.6" y1="262.62" y2="262.62" stroke="#9325a8" stroke-width="0.95"/>
<line x1="5.5" x2="986.6" y1="300.35" y2="300.35" stroke="#fff" stroke-opacity="0.93" stroke-width="0.95"/>
<line x1="5.5" x2="986.6" y1="375.8" y2="375.8" stroke="#fff" stroke-opacity="0.63" stroke-width="1.4"/>
<line x1="5.5" x2="986.6" y1="451.25" y2="451.25" stroke="#fff" stroke-opacity="0.93" stroke-width="0.95"/>
<text x="1002.3" y="46.17" font-size="6.95" fill="#e8e8e8" stroke="#e8e8e8" stroke-width="0.18" text-anchor="middle" textLength="21.4" lengthAdjust="spacingAndGlyphs">146.200</text>
<text x="1002.3" y="106.53" font-size="6.95" fill="#e8e8e8" stroke="#e8e8e8" stroke-width="0.18" text-anchor="middle" textLength="21.4" lengthAdjust="spacingAndGlyphs">145.800</text>
<text x="1002.3" y="166.89" font-size="6.95" fill="#e8e8e8" stroke="#e8e8e8" stroke-width="0.18" text-anchor="middle" textLength="21.4" lengthAdjust="spacingAndGlyphs">145.400</text>
<text x="1002.3" y="197.07" font-size="6.95" fill="#e8e8e8" stroke="#e8e8e8" stroke-width="0.18" text-anchor="middle" textLength="21.4" lengthAdjust="spacingAndGlyphs">145.200</text>
<text x="1002.3" y="257.43" font-size="6.95" fill="#e8e8e8" stroke="#e8e8e8" stroke-width="0.18" text-anchor="middle" textLength="21.4" lengthAdjust="spacingAndGlyphs">144.800</text>
<text x="1002.3" y="287.61" font-size="6.95" fill="#e8e8e8" stroke="#e8e8e8" stroke-width="0.18" text-anchor="middle" textLength="21.4" lengthAdjust="spacingAndGlyphs">144.600</text>
<text x="1002.3" y="317.79" font-size="6.95" fill="#e8e8e8" stroke="#e8e8e8" stroke-width="0.18" text-anchor="middle" textLength="21.4" lengthAdjust="spacingAndGlyphs">144.400</text>
<text x="1002.3" y="347.97" font-size="6.95" fill="#e8e8e8" stroke="#e8e8e8" stroke-width="0.18" text-anchor="middle" textLength="21.4" lengthAdjust="spacingAndGlyphs">144.200</text>
<text x="1002.3" y="408.33" font-size="6.95" fill="#e8e8e8" stroke="#e8e8e8" stroke-width="0.18" text-anchor="middle" textLength="21.4" lengthAdjust="spacingAndGlyphs">143.800</text>
<text x="1002.3" y="438.51" font-size="6.95" fill="#e8e8e8" stroke="#e8e8e8" stroke-width="0.18" text-anchor="middle" textLength="21.4" lengthAdjust="spacingAndGlyphs">143.600</text>
<text x="1002.3" y="468.69" font-size="6.95" fill="#e8e8e8" stroke="#e8e8e8" stroke-width="0.18" text-anchor="middle" textLength="21.4" lengthAdjust="spacingAndGlyphs">143.400</text>
<rect x="987.0" y="24.83" width="29.2" height="8.5" fill="#fff"/>
<text x="1002.3" y="31.58" font-size="6.95" fill="#222" text-anchor="middle" textLength="21.4" lengthAdjust="spacingAndGlyphs">146.301</text>
<rect x="987.0" y="70.25" width="29.2" height="8.5" fill="#fff"/>
<text x="1002.3" y="77" font-size="6.95" fill="#222" text-anchor="middle" textLength="21.4" lengthAdjust="spacingAndGlyphs">146.000</text>
<rect x="987.0" y="130.61" width="29.2" height="8.5" fill="#fff"/>
<text x="1002.3" y="137.36" font-size="6.95" fill="#222" text-anchor="middle" textLength="21.4" lengthAdjust="spacingAndGlyphs">145.600</text>
<rect x="987.0" y="145.55" width="29.2" height="8.5" fill="#ff9800"/>
<text x="1002.3" y="152.3" font-size="6.95" fill="#1a1a1a" text-anchor="middle" textLength="21.4" lengthAdjust="spacingAndGlyphs">145.501</text>
<rect x="987.0" y="177.54" width="29.2" height="8.5" fill="#00bcd4"/>
<text x="1002.3" y="184.29" font-size="6.95" fill="#1a1a1a" text-anchor="middle" textLength="21.4" lengthAdjust="spacingAndGlyphs">145.289</text>
<rect x="987.0" y="206.21" width="29.2" height="8.5" fill="#fff"/>
<text x="1002.3" y="212.96" font-size="6.95" fill="#222" text-anchor="middle" textLength="21.4" lengthAdjust="spacingAndGlyphs">145.099</text>
<rect x="987.0" y="221.15" width="29.2" height="8.5" fill="#fff"/>
<text x="1002.3" y="227.9" font-size="6.95" fill="#222" text-anchor="middle" textLength="21.4" lengthAdjust="spacingAndGlyphs">145.000</text>
<rect x="987.0" y="258.88" width="29.2" height="8.5" fill="#9325a8"/>
<text x="1002.3" y="265.62" font-size="6.95" fill="#fff" text-anchor="middle" textLength="21.4" lengthAdjust="spacingAndGlyphs">144.750</text>
<rect x="987.0" y="296.6" width="29.2" height="8.5" fill="#fff"/>
<text x="1002.3" y="303.35" font-size="6.95" fill="#222" text-anchor="middle" textLength="21.4" lengthAdjust="spacingAndGlyphs">144.500</text>
<rect x="987.0" y="374.85" width="29.2" height="8.5" fill="#fff"/>
<text x="1002.3" y="381.6" font-size="6.95" fill="#222" text-anchor="middle" textLength="21.4" lengthAdjust="spacingAndGlyphs">144.000</text>
<rect x="987.0" y="447.5" width="29.2" height="8.5" fill="#fff"/>
<text x="1002.3" y="454.25" font-size="6.95" fill="#222" text-anchor="middle" textLength="21.4" lengthAdjust="spacingAndGlyphs">143.500</text>
<rect x="987.0" y="366.15" width="29.2" height="8.5" fill="#2962ff"/>
<text x="1002.3" y="372.9" font-size="6.95" fill="#fff" text-anchor="middle" textLength="21.4" lengthAdjust="spacingAndGlyphs">144.038</text>
<rect x="987.0" y="415.25" width="29.2" height="8.5" fill="#000" stroke="#2351c9" stroke-width="0.6"/>
<text x="1002.3" y="422" font-size="6.95" fill="#2962ff" text-anchor="middle" textLength="21.4" lengthAdjust="spacingAndGlyphs">143.713</text>
<text x="21.32" y="486.05" font-size="7.1" fill="#f6f6f6" stroke="#f6f6f6" stroke-width="0.28" text-anchor="middle" textLength="15.2" lengthAdjust="spacingAndGlyphs">11:00</text>
<text x="64.64" y="486.05" font-size="7.1" fill="#f6f6f6" stroke="#f6f6f6" stroke-width="0.28" text-anchor="middle" textLength="15.2" lengthAdjust="spacingAndGlyphs">12:00</text>
<text x="107.96" y="486.05" font-size="7.1" fill="#f6f6f6" stroke="#f6f6f6" stroke-width="0.28" text-anchor="middle" textLength="15.2" lengthAdjust="spacingAndGlyphs">13:00</text>
<text x="151.28" y="486.05" font-size="7.1" fill="#f6f6f6" stroke="#f6f6f6" stroke-width="0.28" text-anchor="middle" textLength="15.2" lengthAdjust="spacingAndGlyphs">14:00</text>
<text x="194.6" y="486.05" font-size="7.1" fill="#f6f6f6" stroke="#f6f6f6" stroke-width="0.28" text-anchor="middle" textLength="15.2" lengthAdjust="spacingAndGlyphs">15:00</text>
<text x="237.92" y="486.05" font-size="7.1" fill="#f6f6f6" stroke="#f6f6f6" stroke-width="0.28" text-anchor="middle" textLength="15.2" lengthAdjust="spacingAndGlyphs">16:00</text>
<text x="281.24" y="486.05" font-size="7.1" fill="#f6f6f6" stroke="#f6f6f6" stroke-width="0.28" text-anchor="middle" textLength="15.2" lengthAdjust="spacingAndGlyphs">17:00</text>
<text x="324.56" y="486.05" font-size="7.1" fill="#f6f6f6" stroke="#f6f6f6" stroke-width="0.28" text-anchor="middle" textLength="15.2" lengthAdjust="spacingAndGlyphs">18:00</text>
<text x="367.88" y="486.05" font-size="7.1" fill="#f6f6f6" stroke="#f6f6f6" stroke-width="0.28" text-anchor="middle" textLength="15.2" lengthAdjust="spacingAndGlyphs">19:00</text>
<text x="411.2" y="486.05" font-size="7.1" fill="#f6f6f6" stroke="#f6f6f6" stroke-width="0.28" text-anchor="middle" textLength="15.2" lengthAdjust="spacingAndGlyphs">20:00</text>
<text x="454.52" y="486.05" font-size="7.1" fill="#f6f6f6" stroke="#f6f6f6" stroke-width="0.28" text-anchor="middle" textLength="15.2" lengthAdjust="spacingAndGlyphs">21:00</text>
<text x="497.84" y="486.05" font-size="7.1" fill="#f6f6f6" stroke="#f6f6f6" stroke-width="0.28" text-anchor="middle" textLength="15.2" lengthAdjust="spacingAndGlyphs">22:00</text>
<text x="541.16" y="486.05" font-size="7.1" fill="#f6f6f6" stroke="#f6f6f6" stroke-width="0.28" text-anchor="middle" textLength="15.2" lengthAdjust="spacingAndGlyphs">23:00</text>
<text x="584.48" y="486.05" font-size="7.1" fill="#f6f6f6" stroke="#f6f6f6" stroke-width="0.28" text-anchor="middle" textLength="7.0" lengthAdjust="spacingAndGlyphs" font-weight="bold">30</text>
<text x="627.8" y="486.05" font-size="7.1" fill="#f6f6f6" stroke="#f6f6f6" stroke-width="0.28" text-anchor="middle" textLength="15.2" lengthAdjust="spacingAndGlyphs">01:00</text>
<text x="671.12" y="486.05" font-size="7.1" fill="#f6f6f6" stroke="#f6f6f6" stroke-width="0.28" text-anchor="middle" textLength="15.2" lengthAdjust="spacingAndGlyphs">02:00</text>
<text x="714.44" y="486.05" font-size="7.1" fill="#f6f6f6" stroke="#f6f6f6" stroke-width="0.28" text-anchor="middle" textLength="15.2" lengthAdjust="spacingAndGlyphs">03:00</text>
<text x="757.76" y="486.05" font-size="7.1" fill="#f6f6f6" stroke="#f6f6f6" stroke-width="0.28" text-anchor="middle" textLength="15.2" lengthAdjust="spacingAndGlyphs">04:00</text>
<text x="801.08" y="486.05" font-size="7.1" fill="#f6f6f6" stroke="#f6f6f6" stroke-width="0.28" text-anchor="middle" textLength="15.2" lengthAdjust="spacingAndGlyphs">05:00</text>
<text x="844.4" y="486.05" font-size="7.1" fill="#f6f6f6" stroke="#f6f6f6" stroke-width="0.28" text-anchor="middle" textLength="15.2" lengthAdjust="spacingAndGlyphs">06:00</text>
<text x="887.72" y="486.05" font-size="7.1" fill="#f6f6f6" stroke="#f6f6f6" stroke-width="0.28" text-anchor="middle" textLength="15.2" lengthAdjust="spacingAndGlyphs">07:00</text>
<text x="931.04" y="486.05" font-size="7.1" fill="#f6f6f6" stroke="#f6f6f6" stroke-width="0.28" text-anchor="middle" textLength="15.2" lengthAdjust="spacingAndGlyphs">08:00</text>
<text x="974.36" y="486.05" font-size="7.1" fill="#f6f6f6" stroke="#f6f6f6" stroke-width="0.28" text-anchor="middle" textLength="15.2" lengthAdjust="spacingAndGlyphs">09:00</text>
<g transform="translate(5.3,495.8) scale(0.292,0.288)" fill="#111"><path d="M14 22H7V11H0V4h14v18zM28 22h-8l7.500-18h8L28 22z"/><circle cx="20" cy="8" r="4"/></g>
<text x="18.1" y="502.05" font-size="6.5" fill="#2e2e2e">TradingView</text>
</svg></body></html>
